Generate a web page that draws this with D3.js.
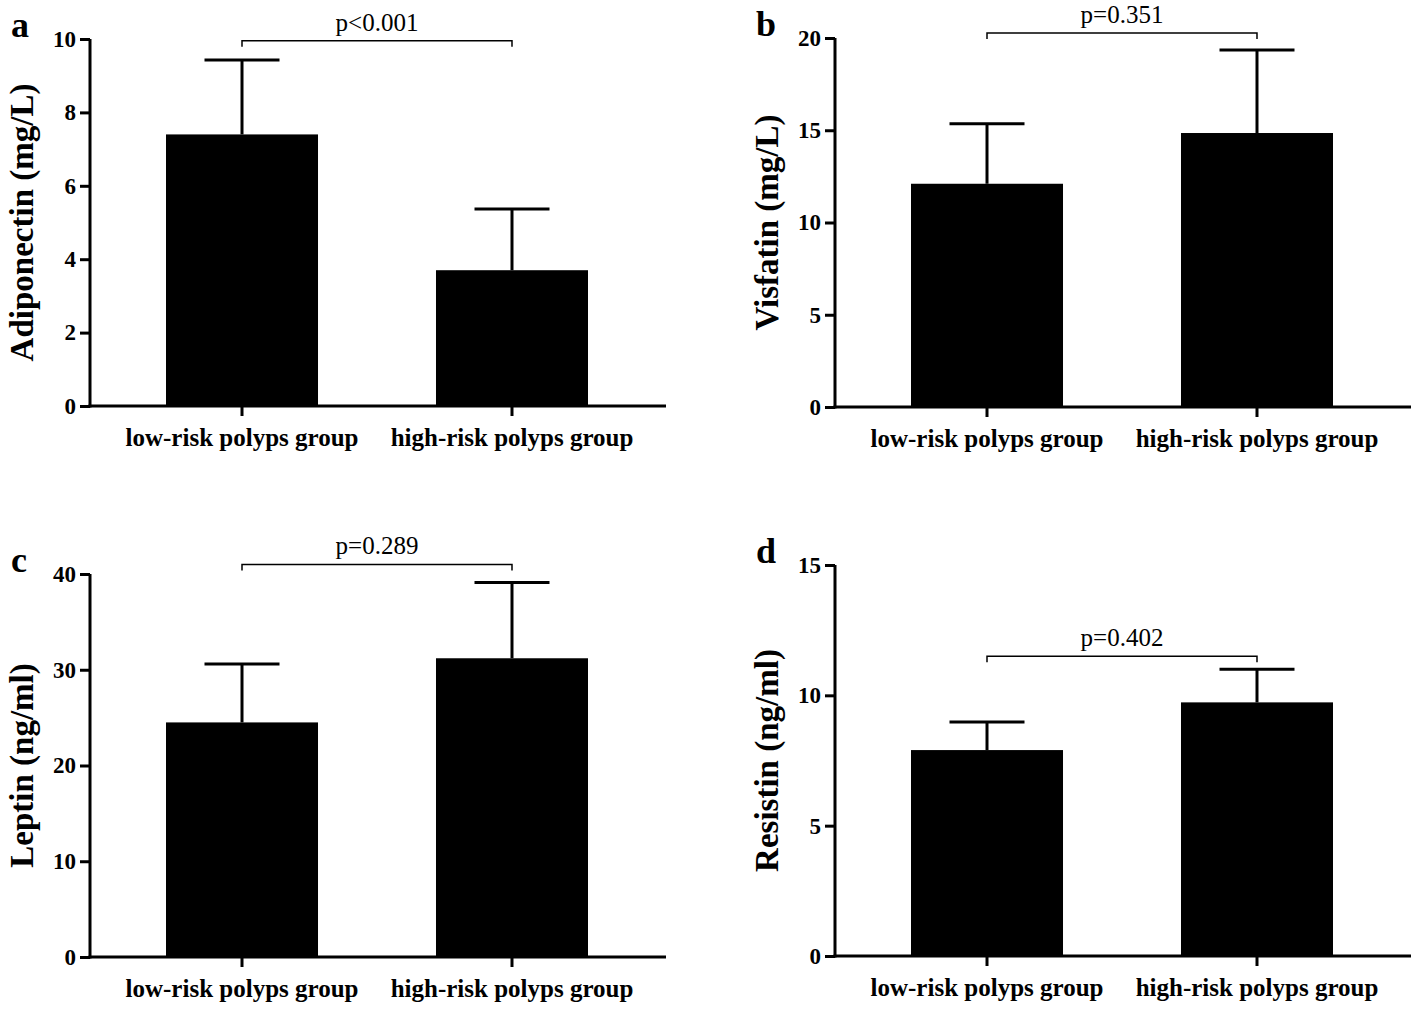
<!DOCTYPE html>
<html><head><meta charset="utf-8">
<script src="https://cdn.jsdelivr.net/npm/d3@7"></script>
<style>body{margin:0;background:#fff}svg{display:block}</style>
</head><body>
<svg id="c" width="1418" height="1011"></svg>
<script>
const categories = ["low-risk polyps group", "high-risk polyps group"];
const panelLetters = ["a", "b", "c", "d"];
const yLabels = ["Adiponectin (mg/L)", "Visfatin (mg/L)", "Leptin (ng/ml)", "Resistin (ng/ml)"];
const means = [[7.4, 3.7], [12.1, 14.85], [24.5, 31.2], [7.9, 9.73]];
const errors = [[2.03, 1.67], [3.25, 4.5], [6.1, 7.9], [1.08, 1.27]];
const yMax = [10, 20, 40, 15];
const yTicks = [[0, 2, 4, 6, 8, 10], [0, 5, 10, 15, 20], [0, 10, 20, 30, 40], [0, 5, 10, 15]];
const pLabels = ["p<0.001", "p=0.351", "p=0.289", "p=0.402"];
const bracketValues = [9.95, 20.27, 41.0, 11.5];

// layout (pixels)
const layouts = [
  {x0: 90, x1: 666, yTop: 39, yBot: 406},
  {x0: 835, x1: 1411, yTop: 38, yBot: 407},
  {x0: 90, x1: 666, yTop: 574, yBot: 957},
  {x0: 835, x1: 1411, yTop: 565, yBot: 956}
];

const svg = d3.select("#c");
const serif = "'Liberation Serif','Times New Roman',serif";

layouts.forEach((L, i) => {
  const g = svg.append("g");
  const y = d3.scaleLinear().domain([0, yMax[i]]).range([L.yBot, L.yTop]);
  const x = d3.scaleBand().domain(categories).range([L.x0 + 76, L.x0 + 498]).paddingInner(0.437).paddingOuter(0);

  // bars
  g.selectAll("rect.bar").data(categories).join("rect")
    .attr("x", d => x(d)).attr("width", x.bandwidth())
    .attr("y", (d, j) => y(means[i][j]))
    .attr("height", (d, j) => y(0) - y(means[i][j]))
    .attr("fill", "#000");

  // error bars
  const capW = 75;
  categories.forEach((c, j) => {
    const cx = x(c) + x.bandwidth() / 2;
    const top = y(means[i][j] + errors[i][j]);
    g.append("line").attr("x1", cx).attr("x2", cx).attr("y1", top).attr("y2", y(means[i][j]))
      .attr("stroke", "#000").attr("stroke-width", 3);
    g.append("line").attr("x1", cx - capW / 2).attr("x2", cx + capW / 2).attr("y1", top).attr("y2", top)
      .attr("stroke", "#000").attr("stroke-width", 3);
  });

  // y axis
  const ya = g.append("g").attr("transform", `translate(${L.x0},0)`)
    .call(d3.axisLeft(y).tickValues(yTicks[i]).tickSize(10).tickSizeOuter(0).tickPadding(4));
  ya.select(".domain").attr("stroke-width", 3).attr("d", `M0,${L.yBot + 1.5}V${L.yTop}`);
  ya.selectAll(".tick line").attr("stroke-width", 3);
  ya.selectAll(".tick text").attr("font-family", serif).attr("font-weight", "bold").attr("font-size", 23).attr("fill", "#000");

  // x axis
  const xa = g.append("g").attr("transform", `translate(0,${L.yBot})`)
    .call(d3.axisBottom(x).tickSize(10).tickSizeOuter(0).tickPadding(12));
  xa.select(".domain").attr("stroke-width", 3).attr("d", `M${L.x0 - 1.5},0H${L.x1}`);
  xa.selectAll(".tick line").attr("stroke-width", 3);
  xa.selectAll(".tick text").attr("font-family", serif).attr("font-weight", "bold").attr("font-size", 25).attr("fill", "#000");

  // y label
  const midY = (L.yTop + L.yBot) / 2;
  g.append("text").attr("transform", `translate(${L.x0 - 57},${midY}) rotate(-90)`)
    .attr("text-anchor", "middle").attr("font-family", serif).attr("font-weight", "bold")
    .attr("font-size", 33).text(yLabels[i]);

  // panel letter
  g.append("text").attr("x", L.x0 - 79).attr("y", L.yTop - 2)
    .attr("font-family", serif).attr("font-weight", "bold").attr("font-size", 36).text(panelLetters[i]);

  // bracket
  const bx1 = x(categories[0]) + x.bandwidth() / 2, bx2 = x(categories[1]) + x.bandwidth() / 2;
  const by = y(bracketValues[i]);
  g.append("path").attr("d", `M${bx1},${by + 6}V${by}H${bx2}V${by + 6}`)
    .attr("fill", "none").attr("stroke", "#000").attr("stroke-width", 1.5);
  g.append("text").attr("x", (bx1 + bx2) / 2).attr("y", by - 10).attr("text-anchor", "middle")
    .attr("font-family", serif).attr("font-size", 25).text(pLabels[i]);
});
</script>
</body></html>
